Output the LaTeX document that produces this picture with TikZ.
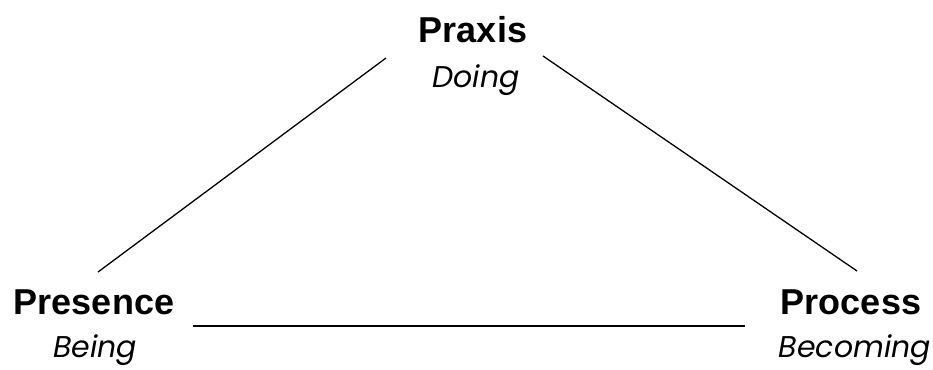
\documentclass[tikz,border=0pt]{standalone}
\usepackage{fontspec}
\setmainfont{Liberation Sans}
\newfontfamily\geofont{Poppins}
\begin{document}
\begin{tikzpicture}[x=1pt,y=-1pt,
  title/.style={font=\fontsize{36}{40}\selectfont\bfseries, anchor=base, inner sep=0pt},
  sub/.style={font=\geofont\fontsize{30}{34}\selectfont\itshape, anchor=base, inner sep=0pt},
  edge/.style={line width=1.3pt, black}]
\useasboundingbox (0,0) rectangle (933,369);
\node[title] (praxis) at (473,42) {Praxis};
\node[sub] (doing) at (476,87) {Doing};
\node[title] (presence) at (94,314) {Presence};
\node[sub] (being) at (95,357) {Being};
\node[title] (process) at (851,314) {Process};
\node[sub] (becoming) at (855,357) {Becoming};
\coordinate (a1) at (386,58);
\coordinate (a2) at (98,272);
\coordinate (b1) at (543,56);
\coordinate (b2) at (857,271);
\coordinate (c1) at (193,326);
\coordinate (c2) at (745,326);
\draw[edge] (a1) -- (a2);
\draw[edge] (b1) -- (b2);
\draw[edge] (c1) -- (c2);
\end{tikzpicture}
\end{document}
